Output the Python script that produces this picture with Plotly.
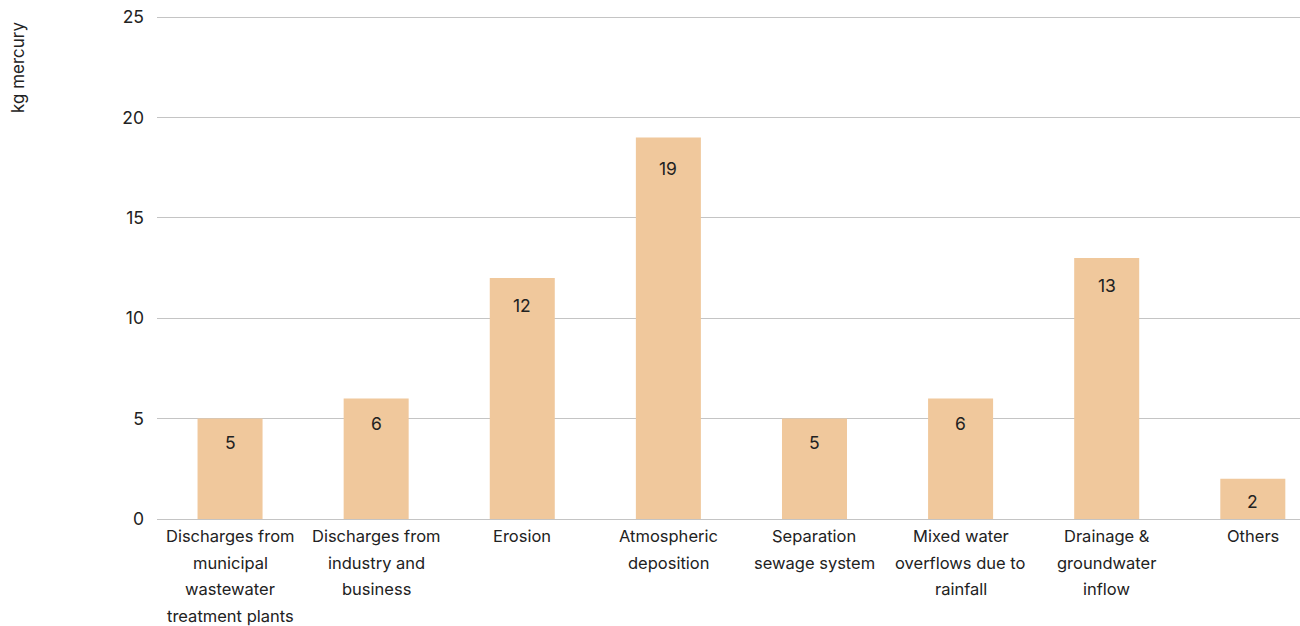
import plotly.graph_objects as go

categories = [
    "Discharges from<br>municipal<br>wastewater<br>treatment plants",
    "Discharges from<br>industry and<br>business",
    "Erosion",
    "Atmospheric<br>deposition",
    "Separation<br>sewage system",
    "Mixed water<br>overflows due to<br>rainfall",
    "Drainage &<br>groundwater<br>inflow",
    "Others",
]
values = [5, 6, 12, 19, 5, 6, 13, 2]
y_ticks = [0, 5, 10, 15, 20, 25]
y_title = "kg mercury"

FONT = "Inter, Roboto, sans-serif"
BAR = "#F0C89C"
TXT = "#222222"

x_idx = list(range(len(categories)))

fig = go.Figure()
fig.add_trace(go.Bar(
    x=x_idx, y=values, width=0.445,
    marker=dict(color=BAR, line=dict(width=0)),
    hoverinfo="skip",
))

ann = []
# value labels inside bars
for i, v in zip(x_idx, values):
    ann.append(dict(x=i, y=v, xref="x", yref="y", text=str(v), showarrow=False,
                    yanchor="middle", yshift=-(22 + 0.45 * v),
                    font=dict(family=FONT, size=17.5, color=TXT)))
# category labels (multi-line with wide line spacing)
for i, lab in zip(x_idx, categories):
    for j, line in enumerate(lab.split("<br>")):
        ann.append(dict(x=i, y=0, xref="x", yref="y", text=line, showarrow=False,
                        yanchor="middle", yshift=-(17 + 26.5 * j),
                        font=dict(family=FONT, size=16.5, color=TXT)))
# y-axis title
ann.append(dict(x=0, y=25, xref="paper", yref="y", text=y_title, showarrow=False,
                textangle=-90, xanchor="center", yanchor="top", xshift=-139, yshift=-2,
                font=dict(family=FONT, size=17, color=TXT)))

fig.update_layout(
    width=1300, height=626,
    margin=dict(l=157, r=0, t=14, b=107),
    paper_bgcolor="white", plot_bgcolor="white",
    showlegend=False,
    annotations=ann,
    xaxis=dict(range=[-0.5, 7.323], showticklabels=False, showgrid=False,
               zeroline=False, showline=False, ticks=""),
    yaxis=dict(range=[0, 25.15], tickvals=y_ticks, showgrid=True, gridcolor="#c4c4c4",
               gridwidth=1, zeroline=True, zerolinecolor="#c4c4c4", zerolinewidth=1,
               showline=False, ticks="", ticklabelstandoff=12,
               tickfont=dict(family=FONT, size=17.5, color=TXT)),
)

fig.write_html("out.html")
